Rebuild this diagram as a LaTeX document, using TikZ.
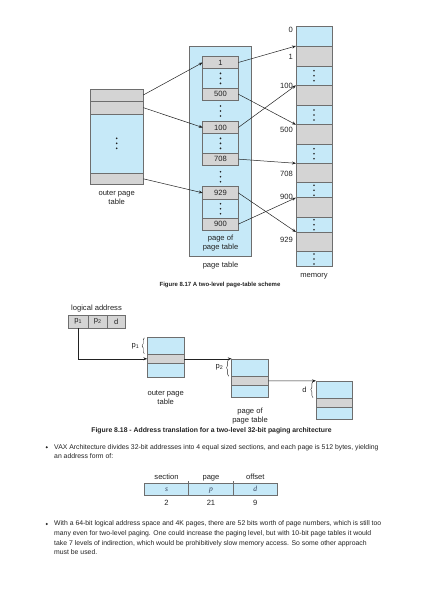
\documentclass[tikz,border=0pt]{standalone}
\usepackage{fontspec}
\setmainfont{Liberation Sans}
\newfontfamily\seriffont{Liberation Serif}
\usetikzlibrary{arrows.meta,decorations.pathreplacing}
\definecolor{lb}{HTML}{C6E9F8}
\definecolor{gc}{HTML}{D4D4D4}
\definecolor{bd}{HTML}{6E6E6E}
\definecolor{tx}{HTML}{222222}
\definecolor{vc}{HTML}{33405A}
% name, x1, y1, x2, y2, style, text
\newcommand\cellnode[7]{\node[#6, anchor=north west, minimum width={(#4)-(#2)}, minimum height={(#5)-(#3)}] (#1) at (#2,#3) {#7};}
\newcommand\vdts[2]{\foreach \dy in {-5,0,5} \fill[tx] (#1,#2+\dy) circle (0.95pt);}
\tikzset{
  cellbase/.style={inner sep=0pt, outer sep=0pt, draw=bd, line width=0.5pt, text=tx, font=\fontsize{7.6}{9}\selectfont},
  bluecell/.style={cellbase, fill=lb},
  graycell/.style={cellbase, fill=gc},
  lbl/.style={inner sep=0pt, text=tx, font=\fontsize{7.6}{9}\selectfont, align=center},
  figcap/.style={inner sep=0pt, text=tx, font=\fontsize{6}{7}\selectfont\bfseries},
  bodytext/.style={inner sep=0pt, text=tx, font=\fontsize{6.85}{9.55}\selectfont, align=left, anchor=north west},
  arr/.style={draw=tx, line width=0.5pt, -{Stealth[length=4pt,width=3pt]}},
  brc/.style={draw=tx, line width=0.4pt, decorate, decoration={brace, amplitude=2.2pt}},
  bul/.style={circle, fill=tx, inner sep=0pt, minimum size=2.3pt},
  valtext/.style={inner sep=0pt, text=vc, font=\fontsize{7.6}{9}\seriffont\itshape}
}
\begin{document}
\begin{tikzpicture}[x=1pt,y=-1pt]
\useasboundingbox[fill=white] (0,0) rectangle (423,598);

% ---------- Figure 8.17 ----------
% outer page table
\cellnode{o1}{90}{89}{143.3}{101}{graycell}{}
\cellnode{o2}{90}{101}{143.3}{114.3}{graycell}{}
\cellnode{ob}{90}{114.3}{143.3}{173.3}{bluecell}{}
\cellnode{o3}{90}{173.3}{143.3}{184.3}{graycell}{}
\vdts{116.7}{143.3}
\node[lbl] (olbl) at (116.7,198) {outer page\\table};

% page table
\cellnode{pt}{189.3}{46.7}{251.7}{256.7}{bluecell}{}
\cellnode{e1}{202.7}{56.7}{238.3}{68.3}{graycell}{1}
\cellnode{eb1}{202.7}{68.3}{238.3}{88.3}{bluecell}{}
\cellnode{e500}{202.7}{88.3}{238.3}{100}{graycell}{500}
\cellnode{e100}{202.7}{121.7}{238.3}{133.3}{graycell}{100}
\cellnode{eb2}{202.7}{133.3}{238.3}{153.3}{bluecell}{}
\cellnode{e708}{202.7}{153.3}{238.3}{165}{graycell}{708}
\cellnode{e929}{202.7}{186.7}{238.3}{199}{graycell}{929}
\cellnode{eb3}{202.7}{199}{238.3}{218.3}{bluecell}{}
\cellnode{e900}{202.7}{218.3}{238.3}{230}{graycell}{900}
\vdts{220.5}{78.3}
\vdts{220.5}{111}
\vdts{220.5}{143.3}
\vdts{220.5}{176.7}
\vdts{220.5}{208.7}
\node[lbl] (poplbl) at (220.5,243.5) {page of\\page table};
\node[lbl] (ptlbl) at (220.5,266) {page table};

% memory
\cellnode{m0}{296}{26}{332}{46}{bluecell}{}
\cellnode{m1}{296}{46}{332}{66}{graycell}{}
\cellnode{mb1}{296}{66}{332}{85.3}{bluecell}{}
\cellnode{m100}{296}{85.3}{332}{105.3}{graycell}{}
\cellnode{mb2}{296}{105.3}{332}{124.7}{bluecell}{}
\cellnode{m500}{296}{124.7}{332}{144}{graycell}{}
\cellnode{mb3}{296}{144}{332}{163.3}{bluecell}{}
\cellnode{m708}{296}{163.3}{332}{182.7}{graycell}{}
\cellnode{mb4}{296}{182.7}{332}{197.7}{bluecell}{}
\cellnode{m900}{296}{197.7}{332}{217.3}{graycell}{}
\cellnode{mb5}{296}{217.3}{332}{232}{bluecell}{}
\cellnode{m929}{296}{232}{332}{251.3}{graycell}{}
\cellnode{mb6}{296}{251.3}{332}{266.7}{bluecell}{}
\vdts{314}{75.7}
\vdts{314}{115}
\vdts{314}{153.7}
\vdts{314}{190.2}
\vdts{314}{224.7}
\vdts{314}{259}
\node[lbl] (memlbl) at (314,276.7) {memory};
\node[lbl, anchor=east] (l0) at (293,29.5) {0};
\node[lbl, anchor=east] (l1) at (293,56.7) {1};
\node[lbl, anchor=east] (l100) at (293,86) {100};
\node[lbl, anchor=east] (l500) at (293,130) {500};
\node[lbl, anchor=east] (l708) at (293,174) {708};
\node[lbl, anchor=east] (l900) at (293,196.7) {900};
\node[lbl, anchor=east] (l929) at (293,240) {929};

% arrows
\draw[arr] (o1.east) -- (e1.west);
\draw[arr] (o2.east) -- (e100.west);
\draw[arr] (o3.east) -- (e929.west);
\draw[arr] (e1.east) -- (m1.north west);
\draw[arr] (e500.east) -- (m500.north west);
\draw[arr] (e100.east) -- (m100.north west);
\draw[arr] (e708.east) -- (m708.north west);
\draw[arr] (e929.east) -- (m929.north west);
\draw[arr] (e900.east) -- (m900.north west);

\node[figcap] (cap1) at (220,285) {Figure 8.17 A two-level page-table scheme};

% ---------- Figure 8.18 ----------
\node[lbl] (lalbl) at (96.5,309) {logical address};
\cellnode{la1}{68.3}{315}{88.3}{328.3}{graycell}{p\textsubscript{1}}
\cellnode{la2}{88.3}{315}{107.3}{328.3}{graycell}{p\textsubscript{2}}
\cellnode{la3}{107.3}{315}{125}{328.3}{graycell}{d}

\cellnode{t1a}{147.3}{337.3}{184}{354.3}{bluecell}{}
\cellnode{t1g}{147.3}{354.3}{184}{363.3}{graycell}{}
\cellnode{t1b}{147.3}{363.3}{184}{377.3}{bluecell}{}
\node[lbl] (t1lbl) at (165.7,398) {outer page\\table};

\cellnode{t2a}{231.7}{358.8}{268.3}{376.7}{bluecell}{}
\cellnode{t2g}{231.7}{376.7}{268.3}{385}{graycell}{}
\cellnode{t2b}{231.7}{385}{268.3}{397.3}{bluecell}{}
\node[lbl] (t2lbl) at (250,416) {page of\\page table};

\cellnode{t3a}{316}{380.85}{352.7}{398.3}{bluecell}{}
\cellnode{t3g}{316}{398.3}{352.7}{407.3}{graycell}{}
\cellnode{t3b}{316}{407.3}{352.7}{419.3}{bluecell}{}

\draw[brc] (144.3,353.8) -- (144.3,337.8);
\node[lbl] (bp1) at (135.5,346.5) {p\textsubscript{1}};
\draw[brc] (228.7,376.2) -- (228.7,359.3);
\node[lbl] (bp2) at (219.5,367) {p\textsubscript{2}};
\draw[brc] (313,397.8) -- (313,381.3);
\node[lbl] (bd) at (304.5,390) {d};

\draw[arr] (la1.south) |- (t1g.west);
\draw[arr] (t1g.east) -- (t2a.north west);
\draw[arr] (t2g.east) -- (t3a.north west);

\node[figcap, font=\fontsize{6.85}{8}\selectfont\bfseries] (cap2) at (211.5,430.7) {Figure 8.18 - Address translation for a two-level 32-bit paging architecture};

% ---------- bullets ----------
\node[bul] (bul1) at (46.7,447.2) {};
\node[bodytext] (txt1) at (54,444) {VAX Architecture divides 32-bit addresses into 4 equal sized sections, and each page is 512 bytes, yielding\\an address form of:};

\node[lbl, anchor=base] (h1) at (166.5,479.5) {section};
\node[lbl, anchor=base] (h2) at (211,479.5) {page};
\node[lbl, anchor=base] (h3) at (255.3,479.5) {offset};
\cellnode{fs}{144.3}{483.3}{188.7}{495}{bluecell}{}
\cellnode{fp}{188.7}{483.3}{233.3}{495}{bluecell}{}
\cellnode{fd}{233.3}{483.3}{277.3}{495}{bluecell}{}
\node[valtext, anchor=base] (vs) at (166.5,491.6) {s};
\node[valtext, anchor=base] (vp) at (211,491.6) {p};
\node[valtext, anchor=base] (vd) at (255.3,491.6) {d};
\draw[draw=bd, line width=0.5pt] (fs.north east) -- ++(0,-2.5);
\draw[draw=bd, line width=0.5pt] (fp.north east) -- ++(0,-2.5);
\node[lbl, anchor=base] (n1) at (166.5,505) {2};
\node[lbl, anchor=base] (n2) at (211,505) {21};
\node[lbl, anchor=base] (n3) at (255.3,505) {9};

\node[bul] (bul2) at (46.7,524) {};
\node[bodytext] (txt2) at (54,520.8) {With a 64-bit logical address space and 4K pages, there are 52 bits worth of page numbers, which is still too\\many even for two-level paging. One could increase the paging level, but with 10-bit page tables it would\\take 7 levels of indirection, which would be prohibitively slow memory access. So some other approach\\must be used.};
\end{tikzpicture}
\end{document}
